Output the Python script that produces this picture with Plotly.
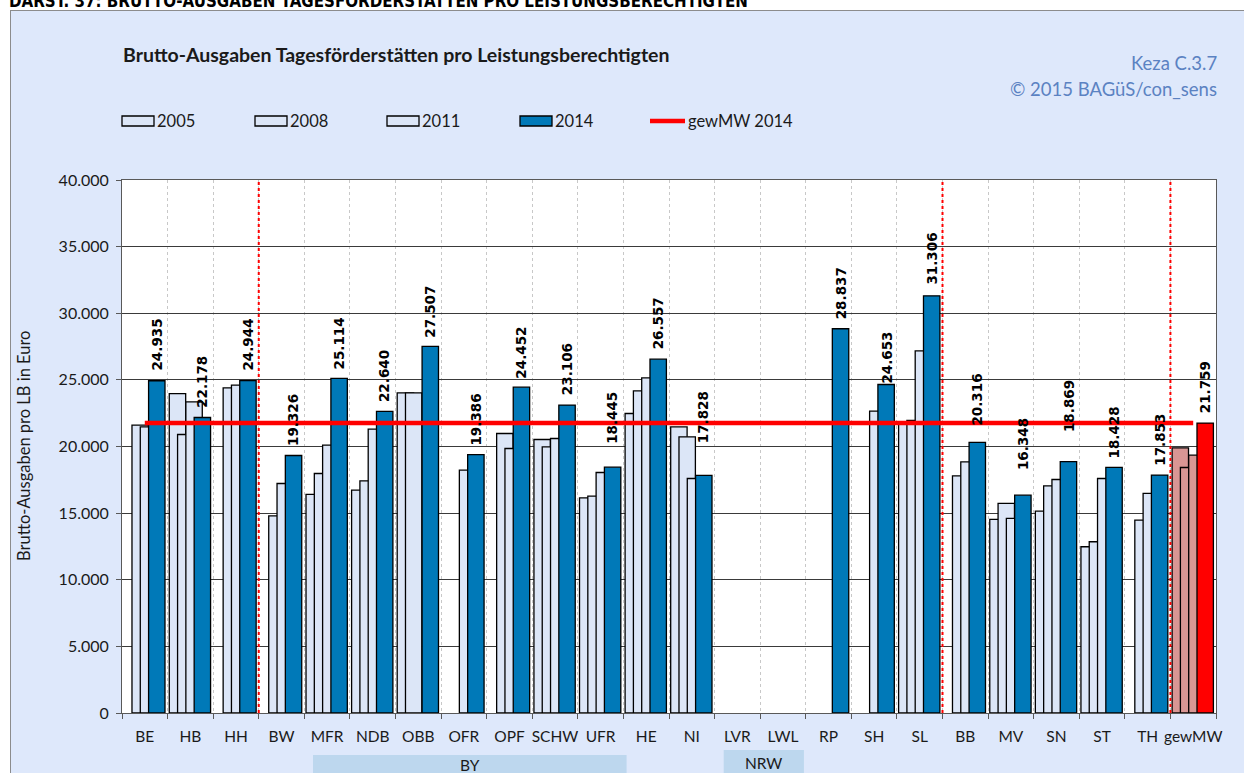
import plotly.graph_objects as go

# ---------------- data ----------------
categories = ["BE", "HB", "HH", "BW", "MFR", "NDB", "OBB", "OFR", "OPF", "SCHW", "UFR", "HE", "NI",
              "LVR", "LWL", "RP", "SH", "SL", "BB", "MV", "SN", "ST", "TH", "gewMW"]
v2005 = [None, 23975, None, None, 16400, 16725, 24025, None, None, 20525, 16150, 22475, 21475,
         None, None, None, None, 21800, None, 14525, 15150, 12475, None, 19900]
v2008 = [21600, 20900, 24400, 14800, 17975, 17425, 24025, None, 20975, 19975, 16275, 24175, 20725,
         None, None, None, None, 21950, 17800, 15725, 17050, 12850, 14475, 18425]
v2011 = [21480, 23350, 24600, 17225, 20100, 21300, None, 18225, 19850, 20600, 18050, 25150, 17600,
         None, None, None, 22650, 27175, 18850, 14600, 17525, 17600, 16475, 19350]
v2014 = [24935, 22178, 24944, 19326, 25114, 22640, 27507, 19386, 24452, 23106, 18445, 26557, 17828,
         None, None, 28837, 24653, 31306, 20316, 16348, 18869, 18428, 17853, 21759]
series_names = ["2005", "2008", "2011", "2014"]
mean_name = "gewMW 2014"
y_ticks = [0, 5000, 10000, 15000, 20000, 25000, 30000, 35000, 40000]

# ---------------- style ----------------
W, H = 1244, 773
L, R, T, B = 122, 28, 180, 60
PW, PH = W - L - R, H - T - B
LIGHT = "#DCE6F7"
DARK = "#0079B8"
ROSE = "#D99694"
RED = "#FF0000"
PAGE = "#DEE8FB"
TXT = "#1a1a1a"
offsets = [-0.463, -0.281, -0.099, 0.083]
bar_w = 0.36
label_gap = [11, 11, 11, 10, 10, 10, 10, 10, 10, 11, 24, 11, 33, 0, 0, 10, 2, 12, 18, 26, 31, 10, 10, 11]
FONT = "Lato"
legend_box_x = [122, 255, 387, 520]
legend_line_x = 650


def px_x(px):
    return (px - L) / PW


def px_y(py):
    return (H - B - py) / PH


n = len(categories)
idx = list(range(n))

fig = go.Figure()
all_vals = [v2005, v2008, v2011, v2014]
for k, (name, vals) in enumerate(zip(series_names, all_vals)):
    if k < 3:
        colors = [LIGHT] * (n - 1) + [ROSE]
    else:
        colors = [DARK] * (n - 1) + [RED]
    fig.add_trace(go.Bar(
        x=idx, y=vals, name=name, offset=offsets[k], width=bar_w,
        marker=dict(color=colors, line=dict(color="#000000", width=1.3)),
        hovertext=categories, hoverinfo="text+y", showlegend=False,
    ))

mean_line = [v2014[-1]] * n
fig.add_trace(go.Scatter(x=idx, y=mean_line, mode="lines", name=mean_name,
                         line=dict(color=RED, width=4.5), showlegend=False, hoverinfo="y"))


def de_fmt(v):
    return f"{v:,}".replace(",", ".")


annotations = []
for i, v in enumerate(v2014):
    if v is None:
        continue
    annotations.append(dict(
        x=i + offsets[3] + bar_w / 2, y=v, xref="x", yref="y", text="<b>" + de_fmt(v) + "</b>",
        textangle=-90, showarrow=False, yanchor="bottom", xanchor="center",
        yshift=label_gap[i] - 3, font=dict(family="DejaVu Sans", size=13.5, color="#000000"),
    ))

# titles and texts
annotations += [
    dict(x=px_x(121), y=px_y(54), xref="paper", yref="paper", xanchor="left", yanchor="middle",
         text="<b>Brutto-Ausgaben Tagesförderstätten pro Leistungsberechtigten</b>", showarrow=False,
         font=dict(family=FONT, size=19.5, color=TXT)),
    dict(x=px_x(1219), y=px_y(63), xref="paper", yref="paper", xanchor="right", yanchor="middle",
         text="Keza C.3.7", showarrow=False, font=dict(family=FONT, size=18.5, color="#5B82C2")),
    dict(x=px_x(1219), y=px_y(89), xref="paper", yref="paper", xanchor="right", yanchor="middle",
         text="© 2015 BAGüS/con_sens", showarrow=False, font=dict(family=FONT, size=18.5, color="#5B82C2")),
    dict(x=px_x(24), y=px_y(446), xref="paper", yref="paper", xanchor="center", yanchor="middle",
         text="Brutto-Ausgaben pro LB in Euro", textangle=-90, showarrow=False,
         font=dict(family=FONT, size=16.5, color=TXT)),
    dict(x=px_x(7), y=px_y(0), xref="paper", yref="paper", xanchor="left", yanchor="middle",
         text="<b>DARST. 37: BRUTTO-AUSGABEN TAGESFÖRDERSTÄTTEN PRO LEISTUNGSBERECHTIGTEN</b>",
         showarrow=False, font=dict(family="DejaVu Sans Condensed", size=16.8, color="#000000")),
    dict(x=(7.13 + 0.5) / n, y=px_y(765), xref="paper", yref="paper", xanchor="center", yanchor="middle",
         text="BY", showarrow=False, font=dict(family=FONT, size=15.5, color=TXT)),
    dict(x=(13.58 + 0.5) / n, y=px_y(763), xref="paper", yref="paper", xanchor="center", yanchor="middle",
         text="NRW", showarrow=False, font=dict(family=FONT, size=15.5, color=TXT)),
]

shapes = [
    # white page strips outside chart frame
    dict(type="rect", xref="paper", yref="paper", x0=px_x(-5), x1=px_x(W + 5), y0=px_y(10), y1=px_y(-5),
         fillcolor="white", line=dict(width=0), layer="below"),
    dict(type="rect", xref="paper", yref="paper", x0=px_x(-5), x1=px_x(10), y0=px_y(H + 5), y1=px_y(-5),
         fillcolor="white", line=dict(width=0), layer="below"),
    dict(type="line", xref="paper", yref="paper", x0=px_x(10), x1=px_x(W + 5), y0=px_y(10.5), y1=px_y(10.5),
         line=dict(color="#8C8C8C", width=1), layer="below"),
    dict(type="line", xref="paper", yref="paper", x0=px_x(10.5), x1=px_x(10.5), y0=px_y(10), y1=px_y(H + 5),
         line=dict(color="#8C8C8C", width=1), layer="below"),
    # region boxes
    dict(type="rect", xref="paper", yref="paper", x0=(3.69 + 0.5) / n, x1=(10.57 + 0.5) / n,
         y0=px_y(H + 5), y1=px_y(755), fillcolor="#BDD7EE", line=dict(width=0), layer="below"),
    dict(type="rect", xref="paper", yref="paper", x0=(12.7 + 0.5) / n, x1=(14.46 + 0.5) / n,
         y0=px_y(H + 5), y1=px_y(750), fillcolor="#BDD7EE", line=dict(width=0), layer="below"),
]
for b in [2.5, 17.5, 22.5]:
    shapes.append(dict(type="line", xref="paper", yref="paper", x0=(b + 0.5) / n, x1=(b + 0.5) / n,
                       y0=0, y1=1, line=dict(color=RED, width=2, dash="dot"), layer="above"))

# legend (wide Excel-style keys)
legend_fill = [LIGHT, LIGHT, LIGHT, DARK]
for k, name in enumerate(series_names):
    x0 = legend_box_x[k]
    shapes.append(dict(type="rect", xref="paper", yref="paper", x0=px_x(x0), x1=px_x(x0 + 32),
                       y0=px_y(126), y1=px_y(116), fillcolor=legend_fill[k],
                       line=dict(color="#000000", width=1.3)))
    annotations.append(dict(x=px_x(x0 + 33), y=px_y(121), xref="paper", yref="paper", xanchor="left",
                            yanchor="middle", text=name, showarrow=False,
                            font=dict(family=FONT, size=16.5, color=TXT)))
shapes.append(dict(type="line", xref="paper", yref="paper", x0=px_x(legend_line_x),
                   x1=px_x(legend_line_x + 35), y0=px_y(121), y1=px_y(121),
                   line=dict(color=RED, width=4.5)))
annotations.append(dict(x=px_x(legend_line_x + 36), y=px_y(121), xref="paper", yref="paper", xanchor="left",
                        yanchor="middle", text=mean_name, showarrow=False,
                        font=dict(family=FONT, size=16.5, color=TXT)))

fig.update_layout(
    width=W, height=H, margin=dict(l=L, r=R, t=T, b=B, pad=0),
    paper_bgcolor=PAGE, plot_bgcolor="white",
    barmode="overlay", separators=",.",
    font=dict(family=FONT, size=14, color=TXT),
    showlegend=False,
    annotations=annotations, shapes=shapes,
    hovermode="closest",
)
fig.update_xaxes(
    type="linear", range=[-0.5, n - 0.5], tickmode="array", tickvals=idx, ticktext=categories,
    showgrid=False, ticks="", showline=True, linecolor="#595959", linewidth=1, mirror=True,
    tickfont=dict(family=FONT, size=15.5, color=TXT), zeroline=False, ticklabelstandoff=9,
    minor=dict(tickmode="array", tickvals=[i + 0.5 for i in range(-1, n)], ticks="outside", ticklen=5,
               tickcolor="#595959", showgrid=True, gridcolor="#C8C8C8", griddash="dot", gridwidth=1),
)
fig.update_yaxes(
    range=[0, 40000], tickmode="array", tickvals=y_ticks, tickformat=",d",
    showgrid=True, gridcolor="#3A3A3A", gridwidth=1, ticks="outside", ticklen=5, tickcolor="#595959",
    showline=True, linecolor="#595959", linewidth=1, mirror=True, zeroline=False,
    tickfont=dict(family=FONT, size=16, color=TXT), ticklabelstandoff=4,
)

fig.write_html("out.html", config={"displayModeBar": False},
               post_script="document.body.style.margin='0';document.body.style.overflow='hidden';")
